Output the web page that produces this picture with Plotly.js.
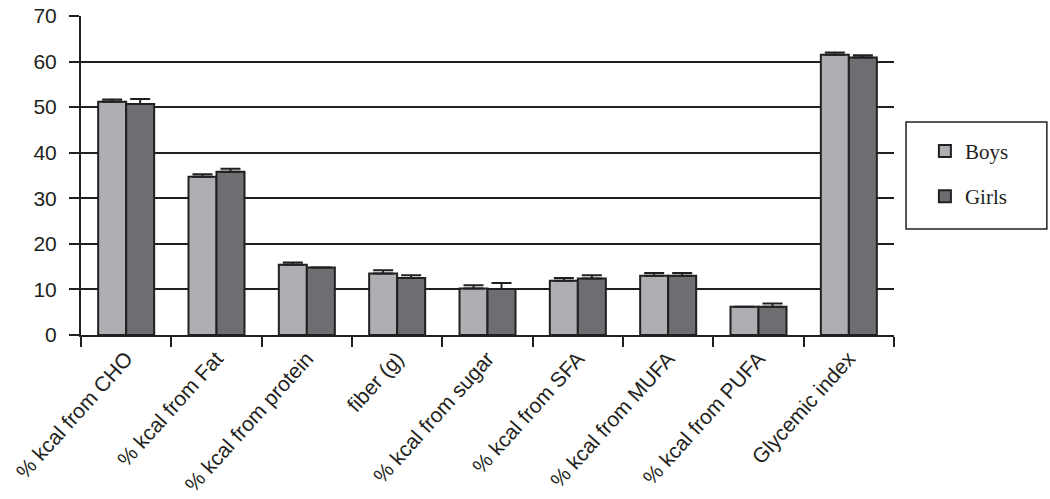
<!DOCTYPE html>
<html>
<head>
<meta charset="utf-8">
<script src="https://cdn.plot.ly/plotly-3.0.1.min.js"></script>
<style>
  body { margin: 0; background: #fff; }
  #chart { width: 1050px; height: 499px; }
</style>
</head>
<body>
<div id="chart"></div>
<script>
var categories = ['% kcal from CHO', '% kcal from Fat', '% kcal from protein', 'fiber (g)',
    '% kcal from sugar', '% kcal from SFA', '% kcal from MUFA', '% kcal from PUFA', 'Glycemic index'];
var boys = [51.2, 34.7, 15.4, 13.5, 10.2, 11.9, 13.0, 6.2, 61.5];
var girls = [50.7, 35.8, 14.8, 12.5, 10.1, 12.4, 13.0, 6.2, 60.9];
var boysErr = [0.5, 0.6, 0.5, 0.7, 0.7, 0.6, 0.6, 0.0, 0.5];
var girlsErr = [1.1, 0.7, 0.0, 0.6, 1.3, 0.7, 0.6, 0.7, 0.5];
var yTicks = [0, 10, 20, 30, 40, 50, 60, 70];

var ink = '#231f20';
var zeros = new Array(categories.length).fill(0);

var boysTrace = {
    type: 'bar',
    name: 'Boys',
    legendgroup: 'boys',
    x: categories,
    y: boys,
    marker: { color: '#aeafb3', line: { color: ink, width: 2 } },
    error_y: { type: 'data', symmetric: false, array: boysErr, arrayminus: zeros,
        color: ink, thickness: 2, width: 10 }
};

var girlsTrace = {
    type: 'bar',
    name: 'Girls',
    legendgroup: 'girls',
    x: categories,
    y: girls,
    marker: { color: '#6d6e71', line: { color: ink, width: 2 } },
    error_y: { type: 'data', symmetric: false, array: girlsErr, arrayminus: zeros,
        color: ink, thickness: 2, width: 10 }
};

var layout = {
    width: 1050,
    height: 499,
    margin: { l: 81, r: 156, t: 16, b: 164 },
    paper_bgcolor: '#ffffff',
    plot_bgcolor: '#ffffff',
    font: { family: 'Liberation Sans, Arial, sans-serif', color: ink, size: 21 },
    barmode: 'group',
    bargap: 0.38,
    bargroupgap: 0,
    showlegend: true,
    legend: {
        x: 1.038, xanchor: 'left',
        y: 0.64, yanchor: 'top',
        bgcolor: 'rgba(0,0,0,0)',
        borderwidth: 0,
        traceorder: 'grouped',
        tracegroupgap: 15,
        font: { family: 'Liberation Serif, Times New Roman, serif', size: 21, color: ink }
    },
    xaxis: {
        type: 'category',
        showline: true, linecolor: ink, linewidth: 2,
        ticks: 'outside', tickson: 'boundaries', ticklen: 10, tickwidth: 2, tickcolor: ink,
        tickangle: -48,
        ticklabelstandoff: 1,
        tickfont: { size: 21, color: ink },
        showgrid: false, zeroline: false
    },
    yaxis: {
        range: [0, 70],
        tickmode: 'array', tickvals: yTicks,
        showline: true, linecolor: ink, linewidth: 2,
        ticks: 'outside', ticklen: 10, tickwidth: 2, tickcolor: ink,
        ticklabelstandoff: 8,
        tickfont: { size: 21, color: ink },
        showgrid: true, gridcolor: ink, gridwidth: 2,
        zeroline: false
    },
    shapes: [{
        type: 'rect', xref: 'paper', yref: 'paper',
        x0: 1.0148, x1: 1.188, y0: 0.332, y1: 0.668,
        line: { color: ink, width: 1.5 },
        fillcolor: 'rgba(0,0,0,0)'
    }, {
        // y axis line runs a little below the x axis
        type: 'line', xref: 'paper', yref: 'paper',
        x0: 0, x1: 0, y0: 0, y1: -0.026,
        line: { color: ink, width: 2 }
    }]
};

Plotly.newPlot('chart', [boysTrace, girlsTrace], layout, { displayModeBar: false, staticPlot: true });
</script>
</body>
</html>
